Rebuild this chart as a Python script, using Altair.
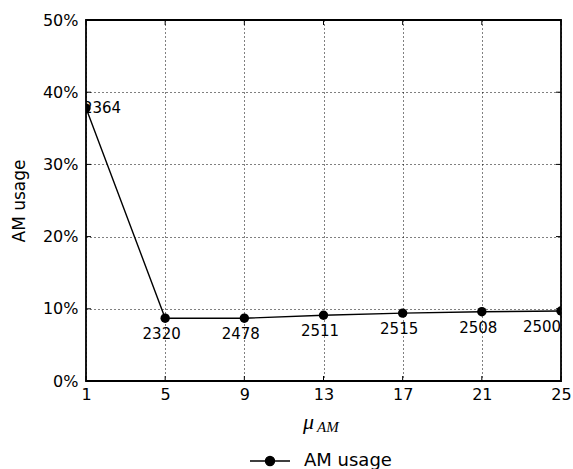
import altair as alt
import pandas as pd

# ---- data ----
mu_values = [1, 5, 9, 13, 17, 21, 25]
am_usage = [0.378, 0.087, 0.087, 0.091, 0.094, 0.096, 0.097]
counts = ["2364", "2320", "2478", "2511", "2515", "2508", "2500"]
x_ticks = [1, 5, 9, 13, 17, 21, 25]
y_ticks = [0.0, 0.1, 0.2, 0.3, 0.4, 0.5]
series_name = "AM usage"

df = pd.DataFrame({"mu": mu_values, "usage": am_usage, "count": counts,
                   "series": [series_name] * len(mu_values)})
xt = pd.DataFrame({"xt": x_ticks})
yt = pd.DataFrame({"yt": y_ticks})

W, H = 475, 361
FONT = "DejaVu Sans"

xscale = alt.Scale(domain=[1, 25], nice=False, zero=False)
yscale = alt.Scale(domain=[0, 0.5], nice=False)

x_axis = alt.Axis(values=x_ticks, title=None, grid=True, gridColor="black",
                  gridDash=[1, 3], gridOpacity=1, gridWidth=1, tickSize=0,
                  domain=False, labelFontSize=16, labelColor="black",
                  labelFont=FONT, labelPadding=5, labelFlush=False)
y_axis = alt.Axis(values=y_ticks, format=".0%", title="AM usage", grid=True,
                  gridColor="black", gridDash=[1, 3], gridOpacity=1, gridWidth=1,
                  tickSize=0, domain=False, labelFontSize=16, labelColor="black",
                  labelFont=FONT, labelPadding=8, titleFontSize=17,
                  titleFont=FONT, titleFontWeight="normal", titleColor="black",
                  titlePadding=14)

X = alt.X("mu:Q", scale=xscale, axis=x_axis)
Y = alt.Y("usage:Q", scale=yscale, axis=y_axis)

base = alt.Chart(df)

label_first = base.transform_filter(alt.datum.mu == 1).mark_text(
    align="center", baseline="middle", dx=16, fontSize=15, font=FONT, color="black", clip=True
).encode(x=X, y=Y, text="count:N")

label_mid = base.transform_filter((alt.datum.mu > 1) & (alt.datum.mu < 25)).mark_text(
    align="center", baseline="middle", dx=-3.5, dy=16, fontSize=15, font=FONT, color="black", clip=True
).encode(x=X, y=Y, text="count:N")

label_last = base.transform_filter(alt.datum.mu == 25).mark_text(
    align="center", baseline="middle", dx=-19, dy=16, fontSize=15, font=FONT, color="black", clip=True
).encode(x=X, y=Y, text="count:N")

line = base.mark_line(color="black", strokeWidth=1.4, clip=True).encode(x=X, y=Y)

legend_path = "M-1,0H1M-0.225,0A0.225,0.225 0 1,1 0.225,0A0.225,0.225 0 1,1 -0.225,0Z"
points = base.mark_circle(size=88, opacity=1, clip=True).encode(
    x=X, y=Y,
    color=alt.Color("series:N", scale=alt.Scale(domain=[series_name], range=["black"]),
                    legend=alt.Legend(title=None, orient="none", legendX=163, legendY=420,
                                      symbolType=legend_path, symbolSize=1600,
                                      symbolStrokeWidth=1.4, symbolStrokeColor="black",
                                      symbolFillColor="black", labelFontSize=18,
                                      labelFont=FONT, labelColor="black", labelOffset=13,
                                      padding=0))
)

tick_len = 5
xt_bottom = alt.Chart(xt).mark_rule(color="black", strokeWidth=1).encode(
    x=alt.X("xt:Q", scale=xscale, axis=x_axis), y=alt.value(H), y2=alt.value(H - tick_len))
xt_top = alt.Chart(xt).mark_rule(color="black", strokeWidth=1).encode(
    x=alt.X("xt:Q", scale=xscale, axis=x_axis), y=alt.value(0), y2=alt.value(tick_len))
yt_left = alt.Chart(yt).mark_rule(color="black", strokeWidth=1).encode(
    y=alt.Y("yt:Q", scale=yscale, axis=y_axis), x=alt.value(0), x2=alt.value(tick_len))
yt_right = alt.Chart(yt).mark_rule(color="black", strokeWidth=1).encode(
    y=alt.Y("yt:Q", scale=yscale, axis=y_axis), x=alt.value(W), x2=alt.value(W - tick_len))

title_df = pd.DataFrame({"t": ["x"]})
mu_text = alt.Chart(title_df).mark_text(
    text="μ", font="Liberation Serif", fontStyle="italic", fontSize=22, color="black",
    align="left", baseline="alphabetic").encode(x=alt.value(217), y=alt.value(409))
am_text = alt.Chart(title_df).mark_text(
    text="AM", font="Liberation Serif", fontStyle="italic", fontSize=15, color="black",
    align="left", baseline="alphabetic").encode(x=alt.value(231), y=alt.value(412))

chart = alt.layer(
    label_first, label_mid, label_last, line, points, xt_bottom, xt_top, yt_left, yt_right,
    mu_text, am_text
).properties(
    width=W, height=H,
    background="white",
    autosize=alt.AutoSizeParams(type="none"),
    padding={"left": 86, "top": 20, "right": 12, "bottom": 88},
).configure_view(
    stroke="black", strokeWidth=1.8
)

chart.save("out.html", embed_options={"renderer": "svg", "actions": False})
